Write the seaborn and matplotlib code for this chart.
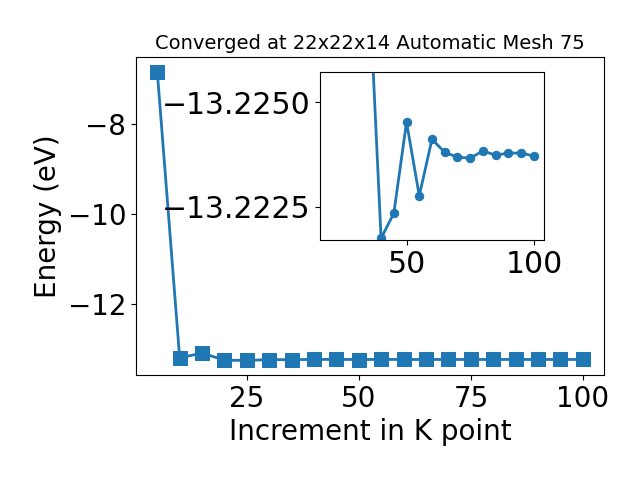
import numpy as np
import pandas as pd
import matplotlib
matplotlib.use("Agg")
import matplotlib.pyplot as plt
import seaborn as sns

# --- Data: total energy vs k-point increment --------------------------------
kpoints = [5, 10, 15, 20, 25, 30, 35, 40, 45, 50,
           55, 60, 65, 70, 75, 80, 85, 90, 95, 100]
energy = [-6.84, -13.19, -13.08, -13.24, -13.245, -13.2265, -13.2282, -13.22174,
          -13.22234, -13.22452, -13.22276, -13.22411, -13.22380, -13.22368,
          -13.22366, -13.22383, -13.22373, -13.22378, -13.22378, -13.22371]

df = pd.DataFrame({"kpoint": kpoints, "energy": energy})
# the inset only shows the converged part (k >= 20)
df_zoom = df[df["kpoint"] >= 20]

plt.rcParams["font.family"] = ["DejaVu Sans"]

fig = plt.figure(figsize=(6.4, 4.8), dpi=100)
ax = fig.add_axes([0.2125, 0.219, 0.7315, 0.662])

# main curve
sns.lineplot(data=df, x="kpoint", y="energy", marker="s", markersize=10,
             linewidth=2, color="#1f77b4", markeredgecolor="#1f77b4", ax=ax)
ax.set_xlabel("Increment in K point", fontsize=20)
ax.set_ylabel("Energy (eV)", fontsize=20)
ax.set_title("Converged at 22x22x14 Automatic Mesh 75", fontsize=14)
ax.tick_params(labelsize=20)
ax.set_xticks([25, 50, 75, 100])
ax.set_yticks([-8, -10, -12])

# zoomed inset
axin = fig.add_axes([0.5, 0.5, 0.35, 0.35])
sns.lineplot(data=df_zoom, x="kpoint", y="energy", marker="o", markersize=6,
             linewidth=2, color="#1f77b4", markeredgecolor="#1f77b4", ax=axin)
axin.set_ylim(-13.2217, -13.22572)
axin.set_xticks([50, 100])
axin.set_yticks([-13.2250, -13.2225])
axin.set_yticklabels(["\u221213.2250", "\u221213.2225"])
axin.tick_params(labelsize=21.5)
axin.set_xlabel("")
axin.set_ylabel("")

fig.savefig("out.png", dpi=100)
